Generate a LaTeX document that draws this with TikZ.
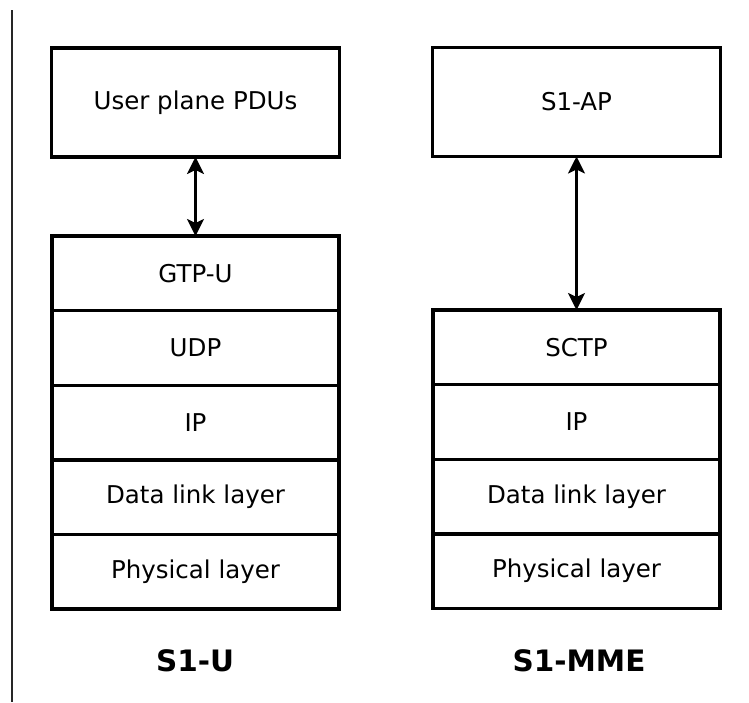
\documentclass[tikz,border=0pt]{standalone}
\usepackage{fontspec}
\setmainfont{DejaVu Sans}
\usetikzlibrary{positioning,arrows.meta}
\begin{document}
\begin{tikzpicture}[x=1pt,y=-1pt,>={Stealth[length=17pt,width=17pt,inset=4pt]},
  every node/.style={font=\fontsize{24.5}{28}\selectfont,inner sep=0pt,outer sep=0pt},
  topbox/.style={draw,line width=3.4pt,minimum width=288pt,minimum height=109pt},
  layer/.style={draw,line width=3.4pt,minimum width=287pt,minimum height=74.6pt},
  stackname/.style={font=\fontsize{29.5}{34}\selectfont\bfseries}]
  \useasboundingbox (0,0) rectangle (749,702);
  \draw[line width=1.2pt,black!85] (12,10)--(12,702);
  \node[topbox] (updu) at (195.5,102.5) {User plane PDUs};
  \node[layer] (gtpu) at (195.5,273.3) {GTP-U};
  \node[layer,below=0pt of gtpu] (udp) {UDP};
  \node[layer,below=0pt of udp] (ipu) {IP};
  \node[layer,below=0pt of ipu] (dllu) {Data link layer};
  \node[layer,below=0pt of dllu] (phyu) {Physical layer};
  \node[topbox] (sap) at (576.5,102) {S1-AP};
  \node[layer] (sctp) at (576.5,347.3) {SCTP};
  \node[layer,below=0pt of sctp] (ipm) {IP};
  \node[layer,below=0pt of ipm] (dllm) {Data link layer};
  \node[layer,below=0pt of dllm] (phym) {Physical layer};
  \draw[<->,line width=2.4pt] (updu.south)--(gtpu.north);
  \draw[<->,line width=2.4pt] (sap.south)--(sctp.north);
  \node[stackname] (s1u) at (195,661) {S1-U};
  \node[stackname] (s1mme) at (579,661) {S1-MME};
\end{tikzpicture}
\end{document}
